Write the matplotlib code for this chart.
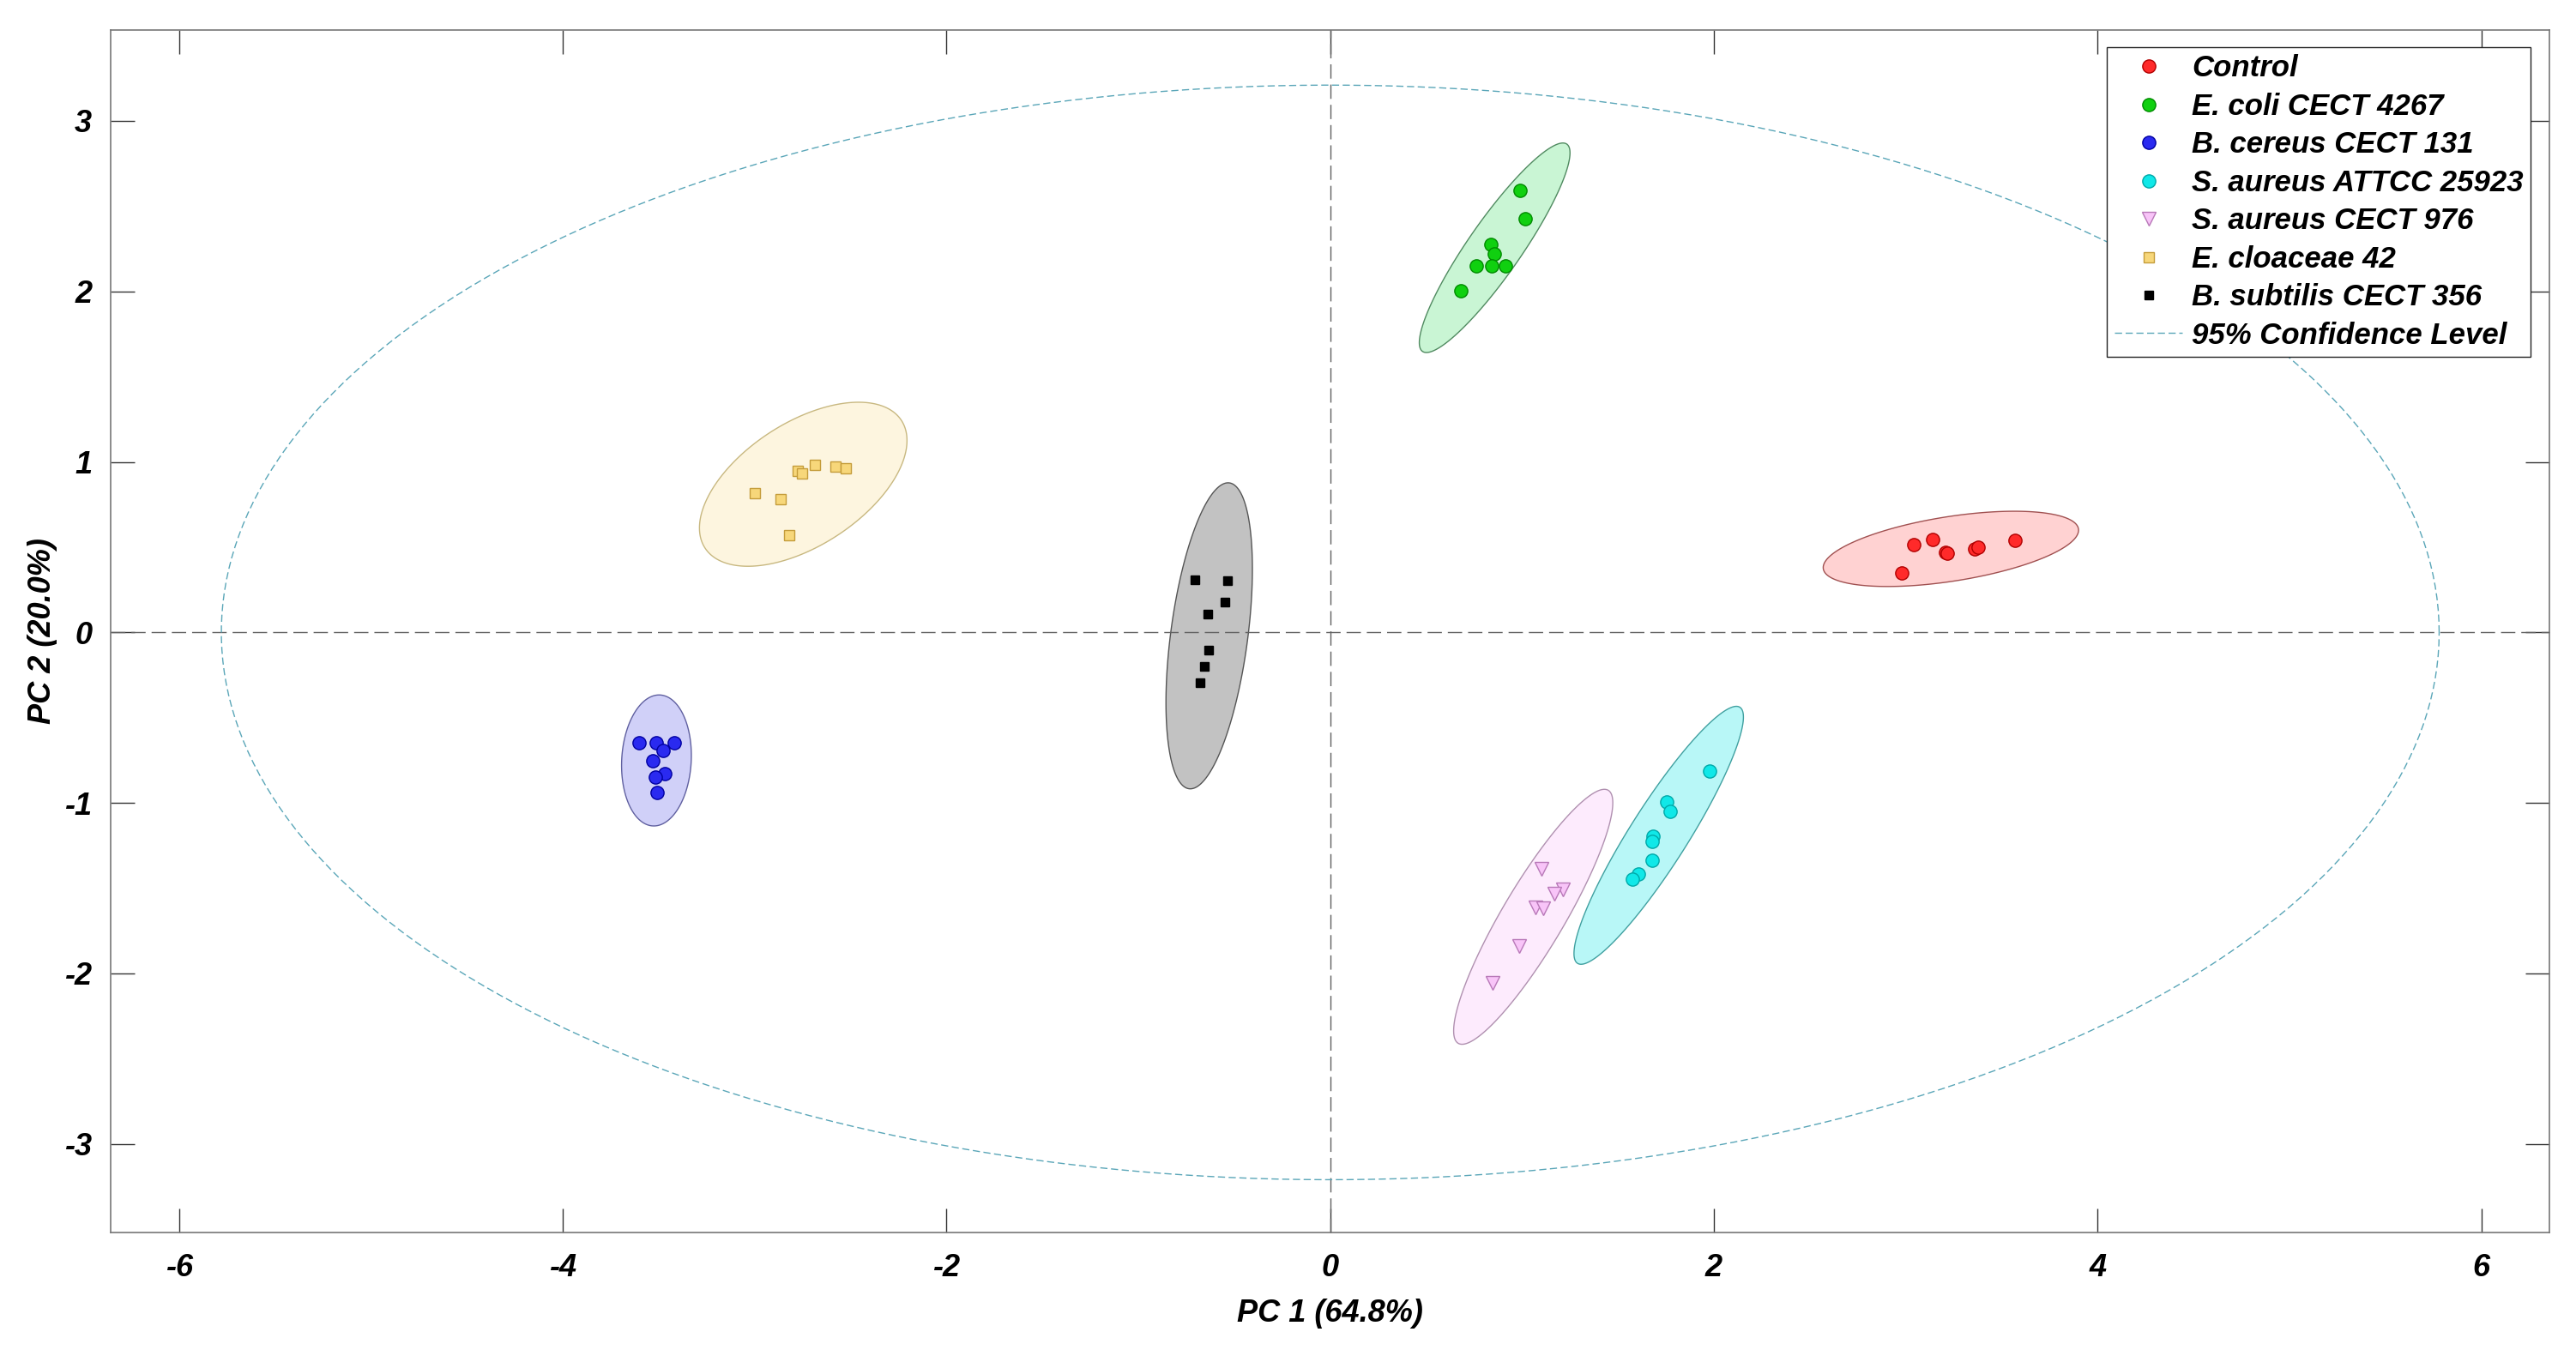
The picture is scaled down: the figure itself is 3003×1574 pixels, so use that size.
import matplotlib
matplotlib.use("Agg")
import matplotlib.pyplot as plt
import numpy as np

plt.rcParams.update({
    "font.family": ["Liberation Sans", "DejaVu Sans"],
    "font.weight": "bold",
    "font.style": "italic",
    "axes.labelweight": "bold",
    "axes.unicode_minus": False,
})

# ---- data (PC1, PC2 scores) ----
groups = ["Control", "E. coli CECT 4267", "B. cereus CECT 131",
          "S. aureus ATTCC 25923", "S. aureus CECT 976",
          "E. cloaceae 42", "B. subtilis CECT 356"]

control_x = [2.98, 3.04, 3.14, 3.205, 3.215, 3.36, 3.375, 3.567]
control_y = [0.35, 0.513, 0.545, 0.47, 0.466, 0.488, 0.50, 0.542]

ecoli_x = [0.99, 1.017, 0.838, 0.853, 0.763, 0.842, 0.915, 0.681]
ecoli_y = [2.59, 2.425, 2.276, 2.218, 2.148, 2.148, 2.148, 2.006]

bcereus_x = [-3.601, -3.515, -3.421, -3.478, -3.533, -3.470, -3.518, -3.511]
bcereus_y = [-0.645, -0.645, -0.645, -0.691, -0.753, -0.827, -0.847, -0.937]

saureus1_x = [1.978, 1.755, 1.770, 1.683, 1.680, 1.677, 1.605, 1.575]
saureus1_y = [-0.813, -0.993, -1.051, -1.197, -1.227, -1.336, -1.417, -1.445]

saureus2_x = [1.099, 1.211, 1.166, 1.069, 1.110, 0.987, 0.848]
saureus2_y = [-1.386, -1.509, -1.532, -1.613, -1.618, -1.839, -2.057]

cloacae_x = [-3.001, -2.867, -2.822, -2.777, -2.755, -2.685, -2.580, -2.524]
cloacae_y = [0.817, 0.782, 0.568, 0.948, 0.931, 0.983, 0.973, 0.964]

subtilis_x = [-0.705, -0.534, -0.549, -0.638, -0.634, -0.656, -0.678]
subtilis_y = [0.310, 0.302, 0.178, 0.106, -0.104, -0.201, -0.293]

# group ellipses: centre, end of major axis, minor/major ratio (as drawn)
ell_center = [(3.235, 0.49), (0.857, 2.256), (-3.512, -0.751), (1.712, -1.190),
              (1.058, -1.668), (-2.747, 0.869), (-0.631, -0.020)]
ell_tip = [(3.90, 0.607), (1.233, 2.864), (-3.493, -0.367), (2.135, -0.439),
           (1.449, -0.926), (-2.235, 1.243), (-0.526, 0.877)]
ell_ratio = [0.25, 0.21, 0.53, 0.19, 0.21, 0.525, 0.25]

# 95% confidence ellipse semi-axes
conf_a, conf_b = 5.78, 3.21

xs = [control_x, ecoli_x, bcereus_x, saureus1_x, saureus2_x, cloacae_x, subtilis_x]
ys = [control_y, ecoli_y, bcereus_y, saureus1_y, saureus2_y, cloacae_y, subtilis_y]

# styles
markers = ["o", "o", "o", "o", "v", "s", "s"]
msizes = [11, 11, 11, 11, 11.5, 8, 7.5]
mface = ["#ff2a2a", "#10d010", "#2a2af0", "#10e8e8", "#f8c4f8", "#f7d77a", "#000000"]
medge = ["#b00000", "#008a00", "#0000a0", "#00a8a8", "#b878b8", "#c49c3a", "#000000"]
efill = ["#ffd2d2", "#c9f5d4", "#d0d0f8", "#b8f7f7", "#fdebfd", "#fdf5df", "#c2c2c2"]
eedge = ["#a05050", "#508a60", "#6060a0", "#40a0a0", "#b090b0", "#c8b880", "#555555"]

fig = plt.figure(figsize=(30.03, 15.74), dpi=100)
ax = fig.add_axes([0.0431, 0.087, 0.9466, 0.891])
xlim = (-6.355, 6.355)
ylim = (-3.52, 3.535)
ax.set_xlim(*xlim)
ax.set_ylim(*ylim)

# y-to-x display scale, to build visually correct ellipses
s = (1402 / (ylim[1] - ylim[0])) / (2842.5 / (xlim[1] - xlim[0]))
t = np.linspace(0, 2 * np.pi, 300)
for i in range(len(groups)):
    cx, cy = ell_center[i]
    tx, ty = ell_tip[i]
    ux, uy = tx - cx, (ty - cy) * s
    vx, vy = -uy * ell_ratio[i], ux * ell_ratio[i]
    px = cx + np.cos(t) * ux + np.sin(t) * vx
    py = cy + (np.cos(t) * uy + np.sin(t) * vy) / s
    ax.fill(px, py, facecolor=efill[i], edgecolor=eedge[i], lw=1.0, zorder=2)

ax.axhline(0, color="#606060", lw=1.0, ls=(0, (12, 5)), zorder=3)
ax.axvline(0, color="#606060", lw=1.0, ls=(0, (12, 5)), zorder=3)

for i, g in enumerate(groups):
    ax.plot(xs[i], ys[i], ls="none", marker=markers[i], ms=msizes[i],
            mfc=mface[i], mec=medge[i], mew=1.0, label=g, zorder=5)

ax.plot(conf_a * np.cos(t), conf_b * np.sin(t), color="#5aa6b8", lw=1.0,
        ls=(0, (6, 3)), label="95% Confidence Level", zorder=3)

ax.set_xticks([-6, -4, -2, 0, 2, 4, 6])
ax.set_yticks([-3, -2, -1, 0, 1, 2, 3])
ax.tick_params(direction="in", length=20, width=1.0, color="#333333",
               top=True, right=True, labelsize=26)
ax.tick_params(axis="x", pad=17)
ax.tick_params(axis="y", pad=16)
for sp in ax.spines.values():
    sp.set_color("#777777")
    sp.set_linewidth(1.2)

ax.set_xlabel("PC 1 (64.8%)", fontsize=26, labelpad=13)
ax.set_ylabel("PC 2 (20.0%)", fontsize=26, labelpad=6)

leg = ax.legend(loc="upper right", bbox_to_anchor=(0.9923, 0.9857),
                borderaxespad=0, fontsize=25, fancybox=False, framealpha=1,
                edgecolor="#222222", labelspacing=0.33, handlelength=2.3,
                handletextpad=0.3, borderpad=0.25)
leg.get_frame().set_linewidth(1.0)

fig.savefig("out.png", dpi=100)
